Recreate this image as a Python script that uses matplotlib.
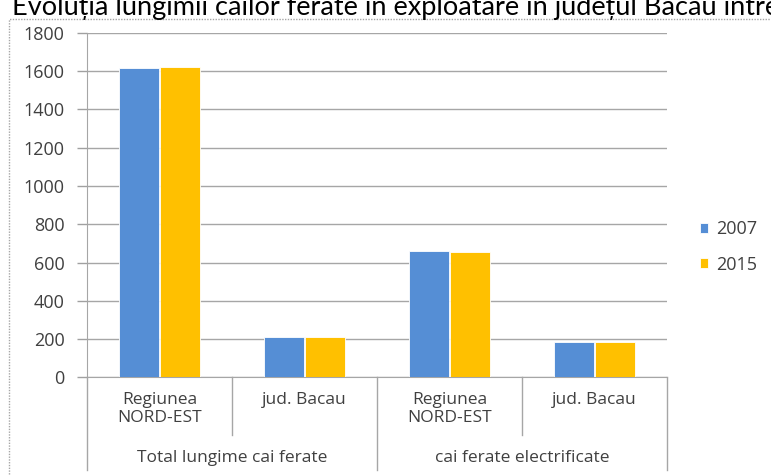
import matplotlib
matplotlib.use("Agg")
import matplotlib.pyplot as plt
import matplotlib.transforms as mtransforms
from matplotlib.patches import Rectangle
import numpy as np

plt.rcParams['font.family'] = ['Open Sans', 'DejaVu Sans']

title = "Evoluția lungimii căilor ferate în exploatare în județul Bacău între"
categories = ["Regiunea\nNORD-EST", "jud. Bacau", "Regiunea\nNORD-EST", "jud. Bacau"]
groups = ["Total lungime cai ferate", "cai ferate electrificate"]
series_names = ["2007", "2015"]
v2007 = [1618, 210, 660, 183]
v2015 = [1622, 210, 657, 183]
colors = ["#558ED5", "#FFC000"]
yticks = [0, 200, 400, 600, 800, 1000, 1200, 1400, 1600, 1800]

W, H = 771, 475
fig = plt.figure(figsize=(W / 100, H / 100), dpi=100)

def fx(x):
    return x / W

def fy(y):
    return 1 - y / H

# outer frame
fig.patches.append(Rectangle((fx(9), fy(480)), fx(800), fy(19) - fy(480),
                             transform=fig.transFigure, fill=False,
                             edgecolor="#a6a6a6", lw=1.0, linestyle=(0, (1, 1))))

ax_l, ax_r, ax_t, ax_b = 87, 667, 32.7, 377.4
ax = fig.add_axes([fx(ax_l), fy(ax_b), fx(ax_r - ax_l), (ax_b - ax_t) / H])

x = np.arange(len(categories))
bw = 0.276
b1 = ax.bar(x - bw / 2 - 0.004, v2007, bw, color=colors[0], edgecolor="white", lw=0.6, zorder=3, label=series_names[0])
b2 = ax.bar(x + bw / 2 + 0.004, v2015, bw, color=colors[1], edgecolor="white", lw=0.6, zorder=3, label=series_names[1])

ax.set_xlim(-0.5, len(categories) - 0.5)
ax.set_ylim(0, 1800)
ax.set_yticks(yticks)
ax.set_yticklabels([str(t) for t in yticks], fontsize=13, color="#404040")
ax.tick_params(axis='y', length=7, color="#a0a0a0", width=1, pad=9)
ax.set_xticks([])
ax.grid(axis='y', color="#a6a6a6", lw=1.0, zorder=0)
for s in ["top", "right"]:
    ax.spines[s].set_visible(False)
ax.spines["left"].set_color("#a6a6a6")
ax.spines["bottom"].set_color("#a6a6a6")

# category separators and labels
trans = mtransforms.blended_transform_factory(ax.transData, ax.transAxes)
def ay(ypx):
    return (ax_b - ypx) / (ax_b - ax_t)

for xs in [-0.5, 1.5, 3.5]:
    ax.plot([xs, xs], [0, ay(470)], transform=trans, color="#a6a6a6", lw=1.0, clip_on=False)
for xs in [0.5, 2.5]:
    ax.plot([xs, xs], [0, ay(435)], transform=trans, color="#a6a6a6", lw=1.0, clip_on=False)

for i, c in enumerate(categories):
    ax.text(i, ay(392), c, transform=trans, ha="center", va="top", fontsize=12.5,
            color="#404040", linespacing=1.2)
for g, gname in enumerate(groups):
    ax.text(2 * g + 0.5, ay(458), gname, transform=trans, ha="center", va="center",
            fontsize=12.5, color="#404040")

# legend
ax.legend(handles=[b1, b2], labels=series_names, loc="center left",
          bbox_to_anchor=(fx(684), fy(247)), bbox_transform=fig.transFigure,
          frameon=False, fontsize=13, handlelength=0.45, handleheight=0.45,
          handletextpad=0.45, labelspacing=0.95, labelcolor="#404040")

# title (cut off at top, as in the reference)
fig.text(fx(12), fy(15), title, ha="left", va="baseline", fontsize=19.5,
         color="#000000", family=["Lato", "DejaVu Sans"])

fig.savefig("out.png", dpi=100)
